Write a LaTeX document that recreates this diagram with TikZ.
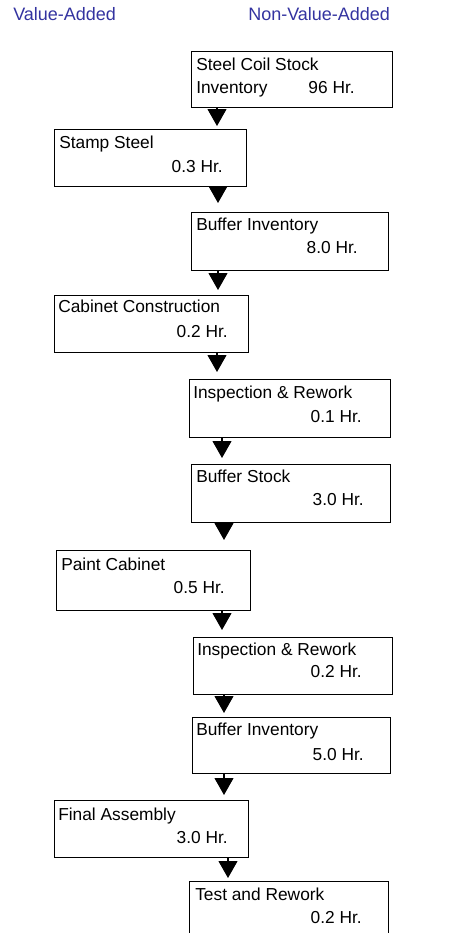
\documentclass[tikz,border=0pt]{standalone}
\usepackage{fontspec}
\setmainfont{Liberation Sans}
\usetikzlibrary{arrows.meta}
\definecolor{headblue}{RGB}{51,51,160}

% process box given by its corner coordinates (in pixel units)
\newcommand\procbox[5]{%
  \node[box, anchor=north west,
        minimum width={(#4-#2)*0.75pt},
        minimum height={(#5-#3)*0.75pt}] (#1) at (#2,#3) {};}

\begin{document}
\begin{tikzpicture}[x=0.75pt,y=-0.75pt,
  box/.style={draw=black, line width=0.8pt, inner sep=0pt, fill=white},
  lbl/.style={inner sep=0pt, font=\fontsize{13}{15}\selectfont},
  head/.style={inner sep=0pt, text=headblue, font=\fontsize{13.5}{16}\selectfont, anchor=base west},
  flow/.style={draw=black, line width=0.8pt,
    -{Triangle[width=14.25pt,length=12.75pt]}}]
\useasboundingbox (0,0) rectangle (475,933);
\clip (0,0) rectangle (475,933);

% column headings
\node[head] (hva)  at (13,20)  {Value-Added};
\node[head] (hnva) at (248,20) {Non-Value-Added};

% process steps
\procbox{coil}{191}{51}{392}{107}
\procbox{stamp}{54}{129}{246}{186}
\procbox{bufa}{191}{212}{388}{270}
\procbox{cab}{54}{295}{248}{352}
\procbox{inspa}{189}{379}{390}{437}
\procbox{bstock}{191}{464}{390}{522}
\procbox{paint}{56}{550}{250}{610}
\procbox{inspb}{193}{637}{392}{694}
\procbox{bufb}{192}{717}{390}{773}
\procbox{final}{54}{800}{248}{857}
\procbox{test}{189}{881}{388}{945}

% step names and times
\node[lbl, anchor=base west] (coil-t)   at (196,70)  {Steel Coil Stock};
\node[lbl, anchor=base west] (coil-t2)  at (196,93)  {Inventory};
\node[lbl, anchor=base east] (coil-h)   at (355,93)  {96 Hr.};
\node[lbl, anchor=base west] (stamp-t)  at (59,148)  {Stamp Steel};
\node[lbl, anchor=base east] (stamp-h)  at (223,172) {0.3 Hr.};
\node[lbl, anchor=base west] (bufa-t)   at (196,230) {Buffer Inventory};
\node[lbl, anchor=base east] (bufa-h)   at (358,253) {8.0 Hr.};
\node[lbl, anchor=base west] (cab-t)    at (58,312)  {Cabinet Construction};
\node[lbl, anchor=base east] (cab-h)    at (228,337) {0.2 Hr.};
\node[lbl, anchor=base west] (inspa-t)  at (193,398) {Inspection \& Rework};
\node[lbl, anchor=base east] (inspa-h)  at (362,422) {0.1 Hr.};
\node[lbl, anchor=base west] (bstock-t) at (196,482) {Buffer Stock};
\node[lbl, anchor=base east] (bstock-h) at (364,505) {3.0 Hr.};
\node[lbl, anchor=base west] (paint-t)  at (61,570)  {Paint Cabinet};
\node[lbl, anchor=base east] (paint-h)  at (225,593) {0.5 Hr.};
\node[lbl, anchor=base west] (inspb-t)  at (197,655) {Inspection \& Rework};
\node[lbl, anchor=base east] (inspb-h)  at (362,677) {0.2 Hr.};
\node[lbl, anchor=base west] (bufb-t)   at (196,735) {Buffer Inventory};
\node[lbl, anchor=base east] (bufb-h)   at (364,760) {5.0 Hr.};
\node[lbl, anchor=base west] (final-t)  at (58,820)  {Final Assembly};
\node[lbl, anchor=base east] (final-h)  at (228,843) {3.0 Hr.};
\node[lbl, anchor=base west] (test-t)   at (195,900) {Test and Rework};
\node[lbl, anchor=base east] (test-h)   at (362,923) {0.2 Hr.};

% arrow columns
\coordinate (xa) at (217,0);
\coordinate (xb) at (218,0);
\coordinate (xc) at (222,0);
\coordinate (xd) at (224,0);
\coordinate (xe) at (228,0);

% flow arrows
\draw[flow, shorten >=2.25pt] (coil.south -| xa)   -- (stamp.north -| xa);
\draw[flow, shorten >=6.75pt] (stamp.south -| xb)  -- (bufa.north -| xb);
\draw[flow, shorten >=3.75pt] (bufa.south -| xb)   -- (cab.north -| xb);
\draw[flow, shorten >=5.25pt] (cab.south -| xa)    -- (inspa.north -| xa);
\draw[flow, shorten >=4.5pt]  (inspa.south -| xc)  -- (bstock.north -| xc);
\draw[flow, shorten >=7.5pt]  (bstock.south -| xd) -- (paint.north -| xd);
\draw[flow, shorten >=5.25pt] (paint.south -| xc)  -- (inspb.north -| xc);
\draw[flow, shorten >=3pt]    (inspb.south -| xd)  -- (bufb.north -| xd);
\draw[flow, shorten >=3.75pt] (bufb.south -| xd)   -- (final.north -| xd);
\draw[flow, shorten >=2.25pt] (final.south -| xe)  -- (test.north -| xe);
\end{tikzpicture}
\end{document}
